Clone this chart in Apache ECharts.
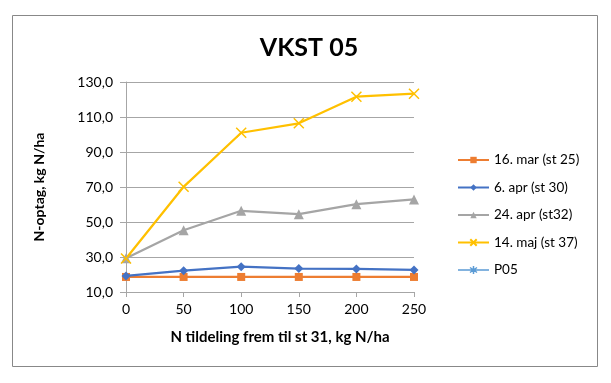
<!DOCTYPE html>
<html>
<head>
<meta charset="utf-8">
<script src="https://cdn.jsdelivr.net/npm/echarts@6/dist/echarts.min.js"></script>
<style>html,body{margin:0;padding:0;background:#fff}#c{width:611px;height:383px}</style>
</head>
<body>
<div id="c"></div>
<script>
const xValues = [0, 50, 100, 150, 200, 250];
const seriesNames = ['16. mar (st 25)', '6. apr (st 30)', '24. apr (st32)', '14. maj (st 37)', 'P05'];
const mar16 = [18.6, 18.6, 18.6, 18.6, 18.6, 18.6];
const apr6 = [19.2, 22.2, 24.5, 23.4, 23.2, 22.6];
const apr24 = [29.3, 45.3, 56.4, 54.5, 60.2, 62.9];
const maj14 = [29.1, 70.1, 101.0, 106.4, 121.6, 123.3];
const p05 = [];
const yTicks = {min: 10, max: 130, interval: 20};

const colors = ['#ED7D31', '#4472C4', '#A5A5A5', '#FFC000', '#5B9BD5'];
const xSym = 'path://M0,0L10,10M10,0L0,10';
const starSym = 'path://M5,0L5,10M0.7,2.5L9.3,7.5M9.3,2.5L0.7,7.5';
const starLegend = 'path://M0,4L31,4M15.5,0L15.5,8M12,1.5L19,6.5M19,1.5L12,6.5';
const font = 'Lato';

function pts(arr){ return arr.map((v,i)=>[xValues[i], v]); }

const defs = [
  {data: mar16, symbol: 'rect', size: 8},
  {data: apr6, symbol: 'diamond', size: 9},
  {data: apr24, symbol: 'triangle', size: 10},
  {data: maj14, symbol: xSym, size: 10, stroke: 1.5},
  {data: p05, symbol: starSym, size: 10, stroke: 1}
];

const series = defs.map((d, i) => ({
  name: seriesNames[i],
  type: 'line',
  data: pts(d.data),
  symbol: d.symbol,
  symbolSize: d.size,
  showAllSymbol: true,
  lineStyle: {color: colors[i], width: 2.25},
  itemStyle: d.stroke ? {color: 'rgba(0,0,0,0)', borderColor: colors[i], borderWidth: d.stroke} : {color: colors[i]},
  emphasis: {disabled: true},
  animation: false,
  z: 2 + (i === 1 ? 2 : 0)
}));

const legendData = seriesNames.map((n, i) => i === 4
  ? {name: n, icon: starLegend, itemStyle: {color: 'rgba(0,0,0,0)', borderColor: colors[i], borderWidth: 1.5}}
  : n);

const chart = echarts.init(document.getElementById('c'));
chart.setOption({
  animation: false,
  color: colors,
  title: {
    text: 'VKST 05', left: 304, top: 30, textAlign: 'center',
    textStyle: {fontFamily: font, fontWeight: 'bold', fontSize: 25, color: '#000'}
  },
  graphic: [{
    type: 'rect', shape: {x: 12.5, y: 15.5, width: 585, height: 351},
    style: {fill: 'none', stroke: '#888', lineWidth: 1}, silent: true, z: -1
  }],
  legend: {
    orient: 'vertical', left: 452, top: 148,
    itemWidth: 31, itemHeight: 8, itemGap: 13.5,
    textStyle: {fontFamily: font, fontSize: 13.5, color: '#000'},
    data: legendData
  },
  grid: {left: 126, right: 197, top: 82, bottom: 91, containLabel: false},
  xAxis: {
    type: 'value', min: 0, max: 250, interval: 50,
    name: 'N tildeling frem til st 31, kg N/ha', nameLocation: 'middle', nameGap: 38,
    nameTextStyle: {fontFamily: font, fontWeight: 'bold', fontSize: 15, color: '#000', padding: [0,0,0,20]},
    axisLine: {show: true, lineStyle: {color: '#a6a6a6', width: 1}},
    axisTick: {show: true, length: 5, lineStyle: {color: '#a6a6a6'}},
    axisLabel: {fontFamily: font, fontSize: 14, color: '#000', margin: 10},
    splitLine: {show: false}
  },
  yAxis: {
    type: 'value', min: yTicks.min, max: yTicks.max, interval: yTicks.interval,
    name: 'N-optag, kg N/ha', nameLocation: 'middle', nameGap: 80, nameRotate: 90,
    nameTextStyle: {fontFamily: font, fontWeight: 'bold', fontSize: 14, color: '#000'},
    axisLine: {show: true, lineStyle: {color: '#a6a6a6', width: 1}},
    axisTick: {show: true, length: 6, lineStyle: {color: '#a6a6a6'}},
    axisLabel: {fontFamily: font, fontSize: 14, color: '#000', margin: 13,
      formatter: v => v.toFixed(1).replace('.', ',')},
    splitLine: {show: true, lineStyle: {color: '#a6a6a6', width: 1}}
  },
  series: series
});
</script>
</body>
</html>
